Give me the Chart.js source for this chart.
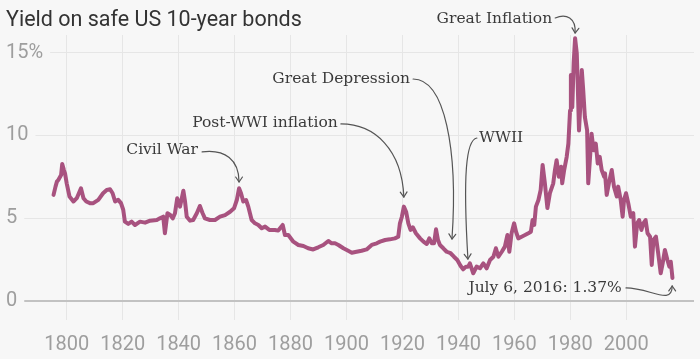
<!DOCTYPE html>
<html>
<head>
<meta charset="utf-8">
<script src="https://cdn.jsdelivr.net/npm/chart.js@4.4.1/dist/chart.umd.min.js"></script>
<style>
  html, body { margin: 0; padding: 0; background: #f7f7f7; }
</style>
</head>
<body>
<canvas id="c" width="700" height="359"></canvas>
<script>
// ---- data ----
const years = [
  1795.3, 1796, 1796.5, 1797, 1798, 1798.4, 1799, 1799.4, 1800, 1801, 1802.4, 1803.6, 1805.1, 1806, 1807,
  1808.3, 1809.5, 1811.3, 1813, 1814.3, 1815.5, 1816.4, 1817.3, 1818.4, 1819.4, 1820.2, 1820.8, 1822,
  1823.2, 1824.4, 1826.2, 1828, 1829.8, 1832.2, 1833.3, 1834.5, 1835.1, 1836, 1837, 1837.9, 1838.7,
  1839.5, 1840.5, 1841.7, 1842.3, 1842.9, 1844.1, 1845.2, 1846.5, 1847.6, 1848.5, 1849.4, 1851.2, 1853,
  1854.8, 1856.6, 1858.4, 1859.8, 1860.8, 1861.6, 1862.3, 1863.1, 1864.1, 1864.9, 1866.1, 1867.3, 1868.5,
  1869.7, 1870.9, 1872.4, 1874.4, 1875.6, 1877.2, 1878, 1879.2, 1881, 1882.8, 1884.6, 1886.3, 1888.1,
  1889.9, 1891.7, 1893.5, 1894.7, 1895.9, 1897.1, 1898.9, 1900.6, 1901.9, 1903.6, 1905.4, 1907.2, 1909,
  1910.8, 1912, 1913.8, 1915.5, 1917.3, 1918.5, 1919.1, 1919.8, 1920.5, 1921.3, 1922.1, 1922.9, 1923.7,
  1924.8, 1926.3, 1927.5, 1928.7, 1929.6, 1930.5, 1931.3, 1932, 1932.7, 1933.4, 1934.6, 1935.8, 1937.2,
  1938.4, 1939.6, 1940.8, 1941.7, 1942.7, 1943.5, 1944.1, 1945.3, 1946.5, 1947.7, 1948.9, 1950.1, 1951.3,
  1952.5, 1953.4, 1954.3, 1955.5, 1956.6, 1957.5, 1958.2, 1959, 1959.9, 1960.6, 1961.4, 1962.6, 1963.8,
  1965, 1965.9, 1966.5, 1967.1, 1967.7, 1968.6, 1969.4, 1970.1, 1970.9, 1971.8, 1972.7, 1973.9, 1974.5,
  1975.1, 1975.9, 1976.7, 1977.1, 1977.8, 1978.7, 1979.3, 1979.9, 1980.2, 1980.7, 1981.2, 1981.7, 1982.3,
  1982.6, 1983.1, 1983.6, 1984.1, 1984.6, 1985.2, 1986, 1986.4, 1986.9, 1987.6, 1988.3, 1989.1, 1989.8,
  1990.5, 1991.2, 1992.1, 1992.4, 1993, 1993.9, 1994.8, 1995.6, 1996.6, 1997.1, 1998, 1998.7, 1999.2,
  1999.9, 2000.7, 2001.6, 2002.5, 2003.1, 2003.9, 2004.6, 2005.4, 2006.1, 2006.9, 2007.6, 2008.5, 2009.1,
  2009.7, 2010.6, 2011.4, 2012.3, 2013, 2013.8, 2014.7, 2015.4, 2015.9, 2016.5
];
const yields = [
  6.4, 6.9, 7.2, 7.3, 7.6, 8.27, 7.9, 7.7, 7.1, 6.3, 6.0, 6.2, 6.8, 6.2, 6.0,
  5.9, 5.9, 6.1, 6.5, 6.7, 6.74, 6.5, 6.0, 6.1, 5.9, 5.5, 4.78, 4.64,
  4.78, 4.58, 4.78, 4.72, 4.84, 4.88, 4.98, 5.08, 4.08, 5.29, 5.18, 4.98, 5.29,
  6.19, 5.69, 6.65, 5.99, 5.08, 4.84, 4.88, 5.29, 5.73, 5.32, 4.98, 4.88, 4.88,
  5.08, 5.18, 5.38, 5.59, 6.09, 6.8, 6.5, 6.0, 6.09, 5.69, 4.88, 4.68, 4.58,
  4.38, 4.48, 4.28, 4.28, 4.24, 4.58, 3.97, 3.97, 3.57, 3.37, 3.31, 3.17, 3.1,
  3.23, 3.37, 3.61, 3.47, 3.47, 3.37, 3.17, 3.02, 2.9, 2.96, 3.02, 3.1, 3.37,
  3.47, 3.57, 3.67, 3.71, 3.77, 3.87, 4.68, 5.08, 5.69, 5.38, 4.68, 4.28, 4.44,
  4.08, 3.77, 3.57, 3.43, 3.77, 3.47, 3.47, 4.32, 3.67, 3.37, 3.17, 2.96, 2.87,
  2.66, 2.46, 2.1, 1.9, 2.06, 2.06, 2.26, 1.66, 2.06, 1.96, 2.26, 1.96, 2.46,
  2.66, 3.17, 2.66, 2.96, 3.27, 3.97, 2.96, 4.08, 4.68, 4.17, 3.77, 3.87, 3.97,
  4.08, 4.17, 4.88, 4.58, 5.69, 6.09, 6.7, 8.21, 7.1, 5.6, 6.5, 7.1, 7.9,
  8.5, 7.5, 8.1, 7.1, 7.9, 8.7, 9.5, 11.5, 13.65, 11.7, 14.4, 15.87, 14.97,
  13.35, 10.3, 11.9, 13.95, 12.75, 11.1, 10.3, 7.1, 8.3, 10.1, 9.1, 9.5, 8.3,
  8.7, 7.9, 7.5, 7.7, 6.4, 7.2, 7.9, 6.9, 6.3, 6.9, 6.1, 5.08, 6.1,
  6.5, 5.9, 5.08, 5.29, 3.27, 4.68, 4.88, 4.28, 4.68, 4.88, 4.08, 3.87, 2.16,
  3.67, 3.87, 2.87, 1.66, 2.26, 3.07, 2.46, 2.06, 2.36, 1.37
];
const xTickYears = [1800, 1820, 1840, 1860, 1880, 1900, 1920, 1940, 1960, 1980, 2000];
const yTickValues = [0, 5, 10, 15];

const titleText = 'Yield on safe US 10-year bonds';

// annotations: text anchor and arrow curve in data coordinates (year, yield)
const annotations = [
  { text: 'Great Inflation', align: 'right', at: [1973.5, 17.04],
    curve: [[1974.6, 17.10], [1978.5, 17.40], [1982.1, 17.10], [1981.7, 16.19]] },
  { text: 'Great Depression', align: 'right', at: [1922.7, 13.41],
    curve: [[1923.8, 13.41], [1935.2, 13.41], [1939.9, 9.12], [1937.7, 3.73]] },
  { text: 'Post-WWI inflation', align: 'right', at: [1896.9, 10.75],
    curve: [[1898.0, 10.69], [1910.2, 10.69], [1919.8, 9.12], [1920.5, 6.27]] },
  { text: 'Civil War', align: 'right', at: [1846.9, 9.12],
    curve: [[1848.4, 9.00], [1856.6, 9.18], [1861.6, 8.51], [1861.6, 7.18]] },
  { text: 'WWII', align: 'left', at: [1947.4, 9.84],
    curve: [[1946.6, 9.84], [1942.7, 9.72], [1941.6, 7.60], [1943.4, 2.52]] },
  { text: 'July 6, 2016: 1.37%', align: 'right', at: [1998.4, 0.77],
    curve: [[1999.9, 0.77], [2008.5, 0.77], [2016.4, -0.32], [2016.4, 0.89]] }
];

const points = years.map((y, i) => ({ x: y, y: yields[i] }));

const bgPlugin = {
  id: 'bg',
  beforeDraw(chart) {
    const ctx = chart.ctx;
    ctx.save();
    ctx.fillStyle = '#f7f7f7';
    ctx.fillRect(0, 0, chart.width, chart.height);
    ctx.restore();
  }
};

const titlePlugin = {
  id: 'titleText',
  afterDraw(chart) {
    const ctx = chart.ctx;
    ctx.save();
    ctx.font = '21.5px Roboto';
    ctx.fillStyle = '#333333';
    ctx.textAlign = 'left';
    ctx.textBaseline = 'alphabetic';
    ctx.fillText(titleText, 6, 26);
    ctx.restore();
  }
};

const annotationPlugin = {
  id: 'annots',
  afterDatasetsDraw(chart) {
    const ctx = chart.ctx;
    const xs = chart.scales.x, ys = chart.scales.y;
    const P = (p) => [xs.getPixelForValue(p[0]), ys.getPixelForValue(p[1])];
    ctx.save();
    annotations.forEach(a => {
      const t = P(a.at);
      ctx.font = '15.5px "DejaVu Serif"';
      ctx.fillStyle = '#3a3a3a';
      ctx.textAlign = a.align;
      ctx.textBaseline = 'middle';
      ctx.fillText(a.text, t[0], t[1]);
      const c = a.curve.map(P);
      ctx.strokeStyle = '#555555';
      ctx.lineWidth = 1.2;
      ctx.lineCap = 'round';
      ctx.lineJoin = 'round';
      ctx.beginPath();
      ctx.moveTo(c[0][0], c[0][1]);
      ctx.bezierCurveTo(c[1][0], c[1][1], c[2][0], c[2][1], c[3][0], c[3][1]);
      ctx.stroke();
      const ang = Math.atan2(c[3][1] - c[2][1], c[3][0] - c[2][0]);
      const L = 6, spread = 0.6;
      ctx.beginPath();
      ctx.moveTo(c[3][0] - L * Math.cos(ang - spread), c[3][1] - L * Math.sin(ang - spread));
      ctx.lineTo(c[3][0], c[3][1]);
      ctx.lineTo(c[3][0] - L * Math.cos(ang + spread), c[3][1] - L * Math.sin(ang + spread));
      ctx.stroke();
    });
    ctx.restore();
  }
};

new Chart(document.getElementById('c'), {
  type: 'line',
  data: {
    datasets: [{
      data: points,
      borderColor: '#a8527f',
      borderWidth: 4,
      pointRadius: 0,
      tension: 0,
      borderJoinStyle: 'round',
      borderCapStyle: 'round',
      fill: false
    }]
  },
  options: {
    responsive: false,
    animation: false,
    devicePixelRatio: 1,
    layout: { padding: { top: 35, right: 6, left: 0, bottom: 0 } },
    plugins: { legend: { display: false }, tooltip: { enabled: false }, title: { display: false } },
    scales: {
      x: {
        type: 'linear',
        min: 1776.16,
        max: 2024.2,
        afterBuildTicks: (axis) => { axis.ticks = xTickYears.map(v => ({ value: v })); },
        afterFit: (axis) => { axis.height = 39; axis.paddingLeft = 0; axis.paddingRight = 0; },
        ticks: {
          callback: (v) => String(v),
          color: '#9e9e9e',
          font: { family: 'Roboto', size: 20 },
          padding: 13,
          maxRotation: 0,
          autoSkip: false
        },
        grid: { color: '#e6e6e6', lineWidth: 1, drawTicks: false },
        border: { display: false }
      },
      y: {
        min: -1.168,
        max: 16.07,
        afterBuildTicks: (axis) => { axis.ticks = yTickValues.map(v => ({ value: v })); },
        afterFit: (axis) => { axis.width = 0; },
        ticks: {
          mirror: true,
          padding: 6,
          callback: (v) => v === 15 ? '15%' : String(v),
          color: '#9e9e9e',
          font: { family: 'Roboto', size: 20 },
          showLabelBackdrop: true,
          backdropColor: '#f7f7f7',
          backdropPadding: { left: 6, right: 7, top: 2, bottom: 2 }
        },
        grid: {
          color: (ctx) => ctx.tick && ctx.tick.value === 0 ? '#c2c2c2' : '#e6e6e6',
          lineWidth: (ctx) => ctx.tick && ctx.tick.value === 0 ? 2 : 1,
          drawTicks: false
        },
        border: { display: false }
      }
    }
  },
  plugins: [bgPlugin, annotationPlugin, titlePlugin]
});
</script>
</body>
</html>
